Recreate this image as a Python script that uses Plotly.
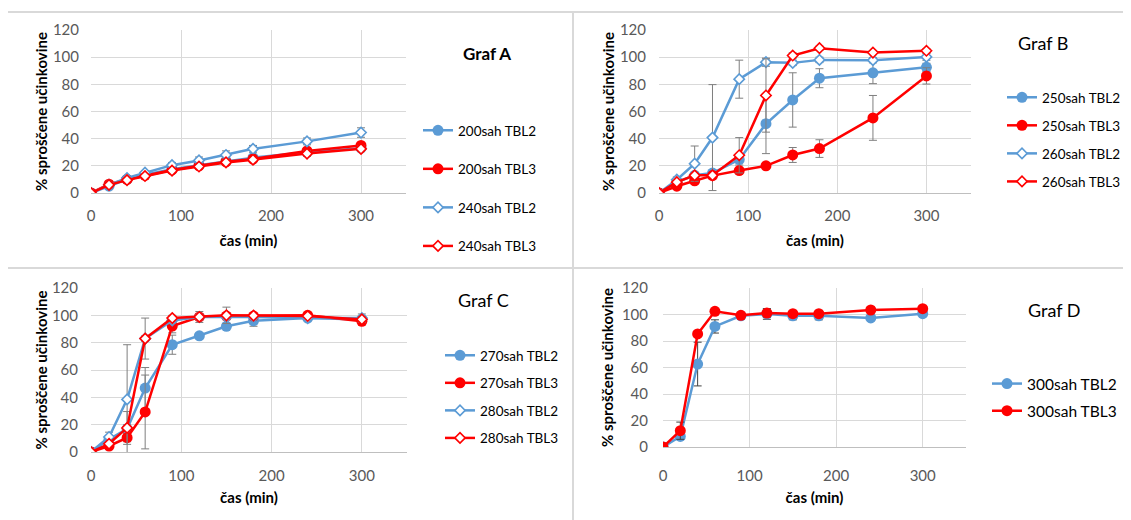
import plotly.graph_objects as go

# page has an 8px body margin: work in reference pixel coords and shift
OFF = 8
W, H = 1131 - OFF, 520 - OFF

t = [0, 20, 40, 60, 90, 120, 150, 180, 240, 300]

# Graf A
a200_tbl2 = [0, 5, 10, 13.5, 17.5, 20.5, 23.5, 26, 30, 33]
a200_tbl2_err = [0, 1, 1, 1, 1, 1, 1.5, 1.5, 2, 2]
a200_tbl3 = [0, 6.5, 10, 13, 17, 20, 23, 25, 31, 35]
a200_tbl3_err = [0, 1, 1, 1, 1, 1, 1.5, 1.5, 2, 2]
a240_tbl2 = [0, 6, 11, 15, 20.5, 24, 28, 32.5, 38, 44.5]
a240_tbl2_err = [0, 1, 1.5, 1.5, 2, 2.5, 3, 2.5, 2.5, 3.5]
a240_tbl3 = [0, 6, 9.5, 12.5, 16.5, 19.5, 22.5, 24.5, 29, 32.5]
a240_tbl3_err = [0, 1, 1, 1, 1, 1, 1.5, 1.5, 2, 2]

# Graf B
b250_tbl2 = [0, 8, 13, 14.7, 24.6, 51, 68.5, 84.5, 88.5, 92.5]
b250_tbl2_err = [0, 2, 2, 2, 4, 22, 20, 7, 8, 3]
b250_tbl3 = [0, 5, 9, 12.8, 16.5, 20, 28, 32.7, 55.3, 86.2]
b250_tbl3_err = [0, 1, 1, 1, 1.5, 1.5, 5.5, 6.5, 16.5, 6]
b260_tbl2 = [0, 9.8, 21.6, 40.8, 83.8, 96.3, 95.8, 98, 97.8, 100.2]
b260_tbl2_err = [0, 2, 13, 39, 14, 3, 2, 2, 2, 2.5]
b260_tbl3 = [0, 8, 13, 13, 27.8, 71.8, 101.2, 106.6, 103.4, 104.7]
b260_tbl3_err = [0, 1, 1, 1, 13, 27, 2, 1.5, 1.5, 1.5]

# Graf C
c270_tbl2 = [0, 9.3, 17, 46.8, 78.5, 85, 92, 96, 98, 97]
c270_tbl2_err = [0, 2, 3, 15, 7, 1.5, 2, 4, 1.5, 2]
c270_tbl3 = [0, 4.4, 10.5, 29.3, 92.2, 98.8, 99.5, 99.5, 100, 95.6]
c270_tbl3_err = [0, 1, 3, 27, 5, 2, 2, 1.5, 1, 2]
c280_tbl2 = [0, 11, 38.5, 83, 96.3, 98.8, 98.8, 98.8, 98, 98]
c280_tbl2_err = [0, 3.5, 40, 2, 2, 2, 2, 2, 1.5, 3]
c280_tbl3 = [0, 6, 17.6, 83, 98, 98.8, 100, 99.8, 99.5, 97]
c280_tbl3_err = [0, 1, 12, 15, 2, 4, 6, 1, 1, 2]

# Graf D
d300_tbl2 = [0, 8, 62.6, 91, 99, 100.4, 99, 99, 97.4, 100.6]
d300_tbl2_err = [0, 1, 16.5, 5, 1, 4, 3, 3, 1.5, 1]
d300_tbl3 = [0, 12.3, 85.3, 102.4, 99.4, 101.1, 100.6, 100.6, 103.4, 104.4]
d300_tbl3_err = [0, 6.5, 1, 1, 1, 3, 2, 1.5, 2, 1]

BLUE = "#5B9BD5"
RED = "#FF0000"
FONT = "Lato"

def px_x(p):
    return (p - OFF) / W

def px_y(p):
    return 1 - (p - OFF) / H

panels = [
    dict(key="A", xd=(91, 406), yd=(193, 30), leg=(418, 115), ttl=(487, 53), lfs=13.5, gap=18,
         tbold=True, yts=11, ytt=1, xts=9, xtt=12,
         series=[("200sah TBL2", a200_tbl2, a200_tbl2_err, BLUE, "circle"),
                 ("200sah TBL3", a200_tbl3, a200_tbl3_err, RED, "circle"),
                 ("240sah TBL2", a240_tbl2, a240_tbl2_err, BLUE, "diamond"),
                 ("240sah TBL3", a240_tbl3, a240_tbl3_err, RED, "diamond")],
         ecol="#7f7f7f"),
    dict(key="B", xd=(659, 971), yd=(193, 30), leg=(1002, 82), ttl=(1043, 43), lfs=13.5, gap=7.5,
         tbold=False, yts=12, ytt=1, xts=9, xtt=12,
         series=[("250sah TBL2", b250_tbl2, b250_tbl2_err, BLUE, "circle"),
                 ("250sah TBL3", b250_tbl3, b250_tbl3_err, RED, "circle"),
                 ("260sah TBL2", b260_tbl2, b260_tbl2_err, BLUE, "diamond"),
                 ("260sah TBL3", b260_tbl3, b260_tbl3_err, RED, "diamond")],
         ecol="#7f7f7f"),
    dict(key="C", xd=(91, 407), yd=(452, 288), leg=(440, 340), ttl=(483, 300), lfs=13.5, gap=7,
         tbold=False, yts=12, ytt=0, xts=10, xtt=9,
         series=[("270sah TBL2", c270_tbl2, c270_tbl2_err, BLUE, "circle"),
                 ("270sah TBL3", c270_tbl3, c270_tbl3_err, RED, "circle"),
                 ("280sah TBL2", c280_tbl2, c280_tbl2_err, BLUE, "diamond"),
                 ("280sah TBL3", c280_tbl3, c280_tbl3_err, RED, "diamond")],
         ecol="#7f7f7f"),
    dict(key="D", xd=(663, 966), yd=(447, 288), leg=(987, 367), ttl=(1054, 310), lfs=15.5, gap=4,
         tbold=False, yts=14, ytt=4, xts=15, xtt=9,
         series=[("300sah TBL2", d300_tbl2, d300_tbl2_err, BLUE, "circle"),
                 ("300sah TBL3", d300_tbl3, d300_tbl3_err, RED, "circle")],
         ecol="#404040"),
]

fig = go.Figure()
layout = dict(
    width=W, height=H, margin=dict(l=0, r=0, t=0, b=0, autoexpand=False),
    paper_bgcolor="white", plot_bgcolor="white",
    font=dict(family=FONT, size=13, color="#595959"),
    showlegend=True,
)
annotations = []
shapes = []

for i, p in enumerate(panels):
    n = "" if i == 0 else str(i + 1)
    xa, ya = "x" + n, "y" + n
    legname = "legend" + n
    for j, (name, vals, err, col, sym) in enumerate(p["series"]):
        if sym == "circle":
            marker = dict(symbol="circle", size=11, color=col, line=dict(width=0))
        else:
            marker = dict(symbol="diamond", size=8, color="white", line=dict(width=1.6, color=col))
        fig.add_trace(go.Scatter(
            x=t, y=vals, name=name, mode="lines+markers",
            line=dict(color=col, width=2.5), marker=marker,
            error_y=dict(type="data", array=err, visible=True, color=p["ecol"], thickness=1, width=4),
            xaxis=xa, yaxis=ya, legend=legname, legendgroup=p["key"] + str(j),
        ))
    xd0, xd1 = p["xd"]
    yb, yt = p["yd"]
    layout["xaxis" + n] = dict(
        domain=[px_x(xd0), px_x(xd1)], range=[0, 350], anchor=ya,
        tickvals=[0, 100, 200, 300], showgrid=True, gridcolor="#d9d9d9", gridwidth=1,
        showline=True, linecolor="#bfbfbf", linewidth=1, zeroline=False,
        ticks="", tickfont=dict(size=15, color="#595959"), ticklabelstandoff=p["xts"],
        title=dict(text="<b>čas (min)</b>", font=dict(size=15, color="#000000"), standoff=p["xtt"]),
        automargin=False,
    )
    layout["yaxis" + n] = dict(
        domain=[px_y(yb), px_y(yt)], range=[0, 120], anchor=xa,
        tickvals=[0, 20, 40, 60, 80, 100, 120], showgrid=True, gridcolor="#d9d9d9", gridwidth=1,
        showline=False, zeroline=False, ticks="", tickfont=dict(size=15, color="#595959"),
        ticklabelstandoff=p["yts"],
        title=dict(text="<b>% sproščene učinkovine</b>", font=dict(size=15, color="#000000"), standoff=p["ytt"]),
        automargin=False,
    )
    lx, ly = p["leg"]
    layout[legname] = dict(
        x=px_x(lx), y=px_y(ly), xanchor="left", yanchor="top",
        bgcolor="rgba(0,0,0,0)", tracegroupgap=p["gap"], traceorder="grouped",
        font=dict(family=FONT, size=p["lfs"], color="#000000"), itemwidth=30,
    )
    tx, ty = p["ttl"]
    label = ("<b>Graf %s</b>" if p["tbold"] else "Graf %s") % p["key"]
    annotations.append(dict(
        text=label, x=px_x(tx), y=px_y(ty), xref="paper", yref="paper",
        showarrow=False, xanchor="center", yanchor="middle",
        font=dict(family=FONT, size=17 if p["tbold"] else 18, color="#000000"),
    ))

# panel borders (Excel chart frames)
BORDER = dict(color="#d9d9d9", width=2)
for (x0, y0, x1, y1) in [(7, 12, 1131, 12), (7, 268, 1131, 268), (7, 12, 7, 520), (573, 12, 573, 520)]:
    shapes.append(dict(type="line", xref="paper", yref="paper",
                       x0=px_x(x0), x1=px_x(x1), y0=px_y(y0), y1=px_y(y1),
                       line=BORDER, layer="below"))

layout["annotations"] = annotations
layout["shapes"] = shapes
fig.update_layout(**layout)
fig.write_html("out.html")
